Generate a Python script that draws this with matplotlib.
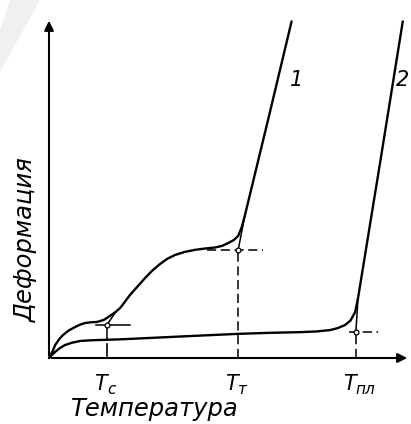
import matplotlib
matplotlib.use("Agg")
import matplotlib.pyplot as plt
from matplotlib.patches import Polygon

# temperatures of transitions (x units 0..100)
t_c = 16.1
t_t = 52.4
t_pl = 85.0

# curve 1 - amorphous polymer
curve1_x = [0, 1.0, 1.7, 2.8, 3.9, 5.5, 7.2, 8.6, 10.0, 11.6, 13.3, 15.2, 16.9, 18.3, 19.7,
            21.0, 22.4, 24.5, 26.6, 28.6, 30.7, 32.8, 34.9, 37.6, 40.4, 43.2, 46.0,
            48.0, 49.6, 51.2, 52.4, 53.4, 54.3, 60.9, 67.2]
curve1_y = [0, 2.0, 3.8, 5.5, 6.8, 8.1, 9.1, 9.8, 10.3, 10.5, 10.6, 11.2, 12.4, 13.4, 14.7,
            16.5, 18.5, 21.0, 23.5, 25.7, 27.6, 29.2, 30.3, 31.2, 31.8, 32.2, 32.5,
            33.0, 33.8, 34.7, 35.9, 38.5, 42.1, 71.0, 99.0]

# curve 2 - crystalline polymer
curve2_x = [0, 0.8, 1.7, 3.0, 4.4, 6.4, 8.6, 11.4, 14.1, 20.0, 28.0, 40.0, 52.4, 61.0,
            69.5, 74.0, 77.8, 80.0, 82.0, 83.5, 84.8, 85.6, 91.8, 98.0]
curve2_y = [0, 0.9, 1.8, 2.9, 3.8, 4.5, 5.0, 5.2, 5.3, 5.5, 5.9, 6.5, 7.1, 7.4,
            7.6, 7.8, 8.2, 8.8, 9.7, 11.0, 13.5, 17.6, 58.0, 99.0]

# tangent extensions of the steep parts
tan1_x = [t_t, 54.3]
tan1_y = [31.8, 42.1]
tan2_x = [t_pl, 85.6]
tan2_y = [7.6, 17.6]
tanc_x = [t_c, 18.5]
tanc_y = [9.8, 13.6]

tick_pos = [t_c, t_t, t_pl]
tick_sub = ["с", "т", "пл"]

fig = plt.figure(figsize=(4.11, 4.24), dpi=100)
# faint grey watermark in the corner of the scan
fig.patches.append(Polygon([(10 / 411, 1), (40 / 411, 1), (0, 1 - 72 / 424), (0, 1 - 30 / 424)],
                           closed=True, transform=fig.transFigure, facecolor="#f0f0f0",
                           edgecolor="none", zorder=0))

ax = fig.add_axes([49 / 411, 66 / 424, 361 / 411, 340 / 424])
ax.set_xlim(0, 100)
ax.set_ylim(0, 100)
ax.axis("off")

lw = 1.7
ax.plot(curve1_x, curve1_y, color="black", lw=lw, solid_capstyle="round", clip_on=False)
ax.plot(curve2_x, curve2_y, color="black", lw=lw, solid_capstyle="round", clip_on=False)
for tx, ty in [(tan1_x, tan1_y), (tan2_x, tan2_y), (tanc_x, tanc_y)]:
    ax.plot(tx, ty, color="black", lw=1.1, clip_on=False)

# axes with arrows
ax.annotate("", xy=(0, 100), xytext=(0, 0), annotation_clip=False,
            arrowprops=dict(arrowstyle="-|>", color="black", lw=1.5, mutation_scale=14))
ax.annotate("", xy=(100, 0), xytext=(0, 0), annotation_clip=False,
            arrowprops=dict(arrowstyle="-|>", color="black", lw=1.5, mutation_scale=14))

# dashed construction lines
dash = dict(color="black", lw=1.1, ls=(0, (6, 3)))
ax.plot([t_t, t_t], [0, 31.8], **dash)
ax.plot([43.8, 59.3], [31.8, 31.8], **dash)
ax.plot([t_pl - 2, 91.0], [7.6, 7.6], **dash)
ax.plot([t_pl, t_pl], [0, 7.6], **dash)
ax.plot([t_c - 3, 22.4], [9.8, 9.8], color="black", lw=1.1)
ax.plot([t_c, t_c], [5.3, 9.8], color="black", lw=1.1)
ax.plot([t_c, t_c], [0.6, 4.0], color="black", lw=1.2)

for px, py in [(t_c, 9.8), (t_t, 31.8), (t_pl, 7.6)]:
    ax.plot(px, py, marker="o", ms=3.5, mfc="white", mec="black", mew=0.9)

# labels
txt = dict(color="black", style="italic", family="DejaVu Sans")
for pos, sub in zip(tick_pos, tick_sub):
    ax.text(pos, -7.5, "T", fontsize=15, ha="right", va="center", **txt)
    ax.text(pos, -9.3, sub, fontsize=11, ha="left", va="center", **txt)

ax.text(29.4, -14.9, "Температура", fontsize=17.5, ha="center", va="center", **txt)
ax.text(-6.3, 34.7, "Деформация", fontsize=17.5, ha="center", va="center", rotation=90, **txt)
ax.text(68.7, 81.8, "1", fontsize=15, ha="center", va="center", **txt)
ax.text(99.9, 81.8, "2", fontsize=15, ha="right", va="center", clip_on=False, **txt)

fig.savefig("out.png", dpi=100)
